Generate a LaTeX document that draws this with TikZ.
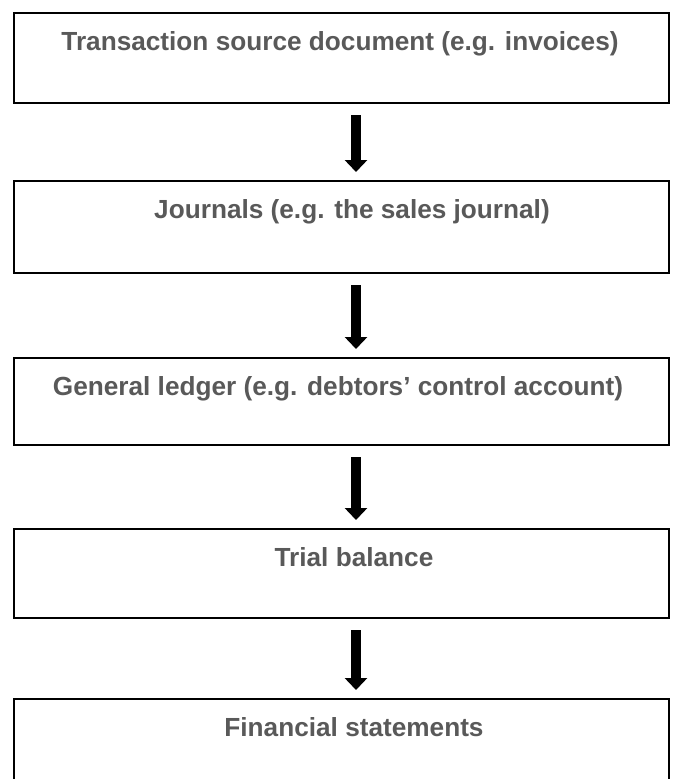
\documentclass[tikz,border=0pt]{standalone}
\usepackage{fontspec}
\setmainfont{Liberation Sans}
\usetikzlibrary{arrows.meta}
\definecolor{labelgray}{HTML}{595959}
\tikzset{
  stagebox/.style={draw=black, line width=2pt, anchor=north west, inner sep=0pt,
    minimum width=655pt},
  stagetext/.style={anchor=base, inner sep=0pt, text=labelgray,
    font=\fontsize{26.2}{30}\selectfont\bfseries},
  flowarrow/.style={line width=10pt, -{Triangle[width=22pt,length=12pt]}}
}
\begin{document}
\begin{tikzpicture}[x=1pt, y=-1pt]
\useasboundingbox (0,0) rectangle (672,779);
\clip (0,0) rectangle (672,779);
% stage boxes (the last one runs past the bottom)
\node[stagebox, minimum height=90pt]  (b1) at (13,12)  {};
\node[stagebox, minimum height=92pt]  (b2) at (13,180) {};
\node[stagebox, minimum height=87pt]  (b3) at (13,357) {};
\node[stagebox, minimum height=89pt]  (b4) at (13,528) {};
\node[stagebox, minimum height=120pt] (b5) at (13,698) {};
% labels near the top of each box
\node[stagetext] (t1) at (340,50)  {Transaction source document (e.g. invoices)};
\node[stagetext] (t2) at (352,218) {Journals (e.g. the sales journal)};
\node[stagetext] (t3) at (338,395) {General ledger (e.g. debtors’ control account)};
\node[stagetext] (t4) at (354,566) {Trial balance};
\node[stagetext] (t5) at (354,736) {Financial statements};
% arrow end points
\coordinate (a1s) at (356,115); \coordinate (a1e) at (356,172);
\coordinate (a2s) at (356,285); \coordinate (a2e) at (356,349);
\coordinate (a3s) at (356,457); \coordinate (a3e) at (356,520);
\coordinate (a4s) at (356,630); \coordinate (a4e) at (356,690);
\draw[flowarrow] (a1s) -- (a1e);
\draw[flowarrow] (a2s) -- (a2e);
\draw[flowarrow] (a3s) -- (a3e);
\draw[flowarrow] (a4s) -- (a4e);
\end{tikzpicture}
\end{document}
